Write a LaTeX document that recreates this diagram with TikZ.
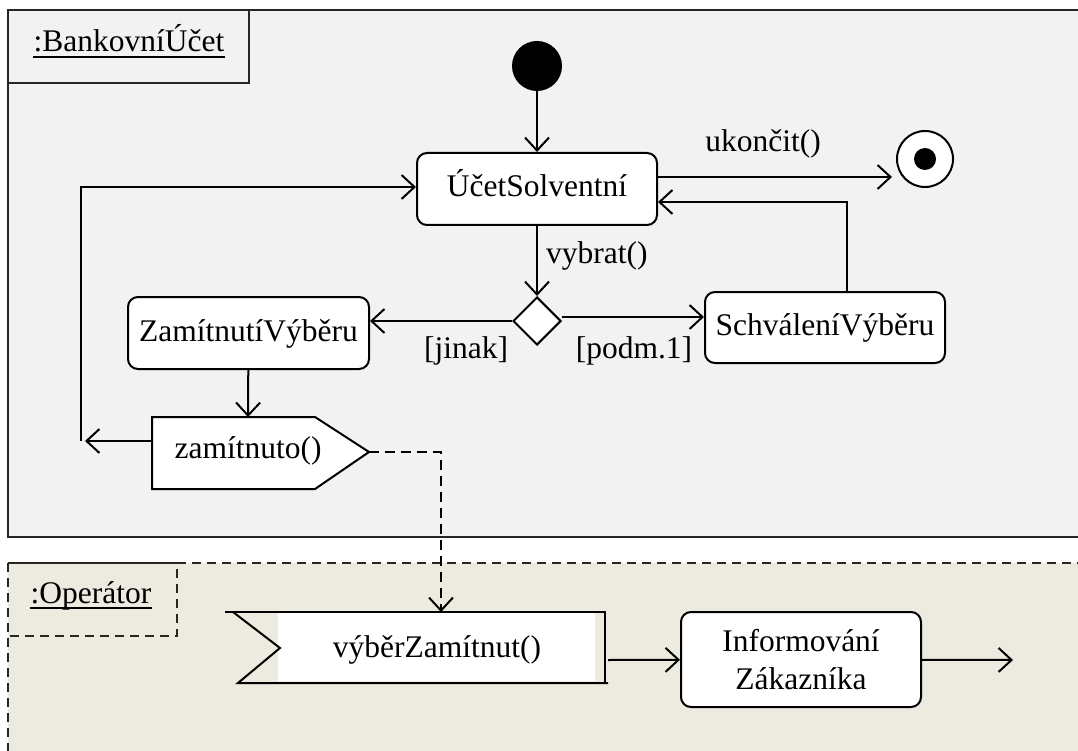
\documentclass[tikz,border=0pt]{standalone}
\usepackage{fontspec}
\setmainfont{Liberation Serif}
\usetikzlibrary{arrows.meta,shapes.geometric,calc}
\definecolor{lanegray}{RGB}{242,242,242}
\definecolor{lanebeige}{RGB}{237,235,224}

\begin{document}
\begin{tikzpicture}[x=1pt,y=-1pt,
  every node/.style={font=\fontsize{31.5}{38}\selectfont, inner sep=0pt},
  thick line/.style={line width=2pt},
  conn/.style={thick line, -{Straight Barb[length=13pt,width=24pt]}},
  flow/.style={thick line, dash pattern=on 10pt off 6pt, -{Straight Barb[length=13pt,width=24pt]}},
  frame/.style={thick line, draw=black!85},
  activity/.style={draw, thick line, fill=white, rounded corners=10pt,
    minimum width=240pt, minimum height=72pt},
  state/.style={activity, text height=22pt, text depth=6pt},
  lbl/.style={anchor=base},
  uline/.style={line width=1.6pt}]

\useasboundingbox (0,0) rectangle (1078,751);

% swimlane frames with their underlined names
\begin{scope}
  \clip (0,0) rectangle (1078,751);
  \fill[white] (0,0) rectangle (1078,751);
  \draw[frame, fill=lanegray] (8,10) rectangle (1100,537);
  \draw[frame, fill=lanegray] (8,10) rectangle (249,83);
  \node[lbl] (bank) at (129,52) {:BankovníÚčet};
  \draw[uline] ([yshift=-5pt]bank.base west) -- ([yshift=-5pt]bank.base east);
  \draw[frame, dash pattern=on 9pt off 6pt, fill=lanebeige] (8,563) rectangle (1100,790);
  \draw[frame, dash pattern=on 9pt off 6pt] (8,563) rectangle (177,636);
  \node[lbl] (oper) at (91,603) {:Operátor};
  \draw[uline] ([yshift=-5pt]oper.base west) -- ([yshift=-5pt]oper.base east);
\end{scope}

% initial and final states
\node[circle, fill=black, minimum size=50pt] (init) at (537,66) {};
\node[circle, draw, thick line, fill=white, minimum size=56pt] (final) at (925,159) {};
\node[circle, fill=black, minimum size=22pt] (finaldot) at (925,159) {};

% activities
\node[state] (ucet) at (537,189) {ÚčetSolventní};
\node[state, minimum width=241pt] (zamv) at (248.5,333) {ZamítnutíVýběru};
\node[state, minimum height=71pt] (schv) at (825,327.5) {SchváleníVýběru};
\node[activity, minimum height=95pt, align=center] (info) at (801,659.5) {Informování\\Zákazníka};
\node[diamond, draw, thick line, fill=white, minimum width=48pt, minimum height=48pt, aspect=1] (dia) at (537,321) {};

% send signal action
\draw[thick line, fill=white] (152,417) -- (315,417) -- (369,452) -- (315,489) -- (152,489) -- cycle;
\node[lbl] (zam) at (248,458) {zamítnuto()};
\coordinate (zamN) at (248,417);
\coordinate (zamW) at (152,441);
\coordinate (zamE) at (369,452);

% accept event action
\fill[white] (278,613) rectangle (595,681);
\draw[thick line] (225,612) -- (605,612) -- (605,683);
\draw[thick line] (233,612) -- (280,648) -- (238,683) -- (608,683);
\node[lbl] (vz) at (437,657) {výběrZamítnut()};
\coordinate (vzN) at (441,612);
\coordinate (vzE) at (608,660);

% helper points
\coordinate (ret) at (81,441);
\coordinate (out) at (1013,660);

% transitions
\draw[conn] (init) -- (ucet);
\draw[conn] ([yshift=12pt]ucet.east) -- ([xshift=-4pt,yshift=-18pt]final.west);
\node[lbl] (lend) at (763,152) {ukončit()};
\draw[conn] ([xshift=22pt]schv.north) |- ([yshift=-13pt]ucet.east);
\draw[conn] (ucet) -- (dia);
\node[lbl, anchor=base west] (lvyb) at (546,263) {vybrat()};
\draw[conn] (dia.west) -- (dia.west -| zamv.east);
\node[lbl] (ljin) at (466,358) {[jinak]};
\draw[conn] ([yshift=4pt]dia.east) -- ([yshift=4pt]dia.east -| schv.west);
\node[lbl] (lpod) at (634,358) {[podm.1]};
\draw[conn] (zamv) -- (zamN);
\draw[conn] (zamW) -- ([xshift=4pt]ret);
\draw[conn] (ret) |- ([yshift=2pt]ucet.west);
\draw[flow] (zamE) -| (vzN);
\draw[conn] (vzE) -- (info);
\draw[conn] (info) -- (out);

\end{tikzpicture}
\end{document}
